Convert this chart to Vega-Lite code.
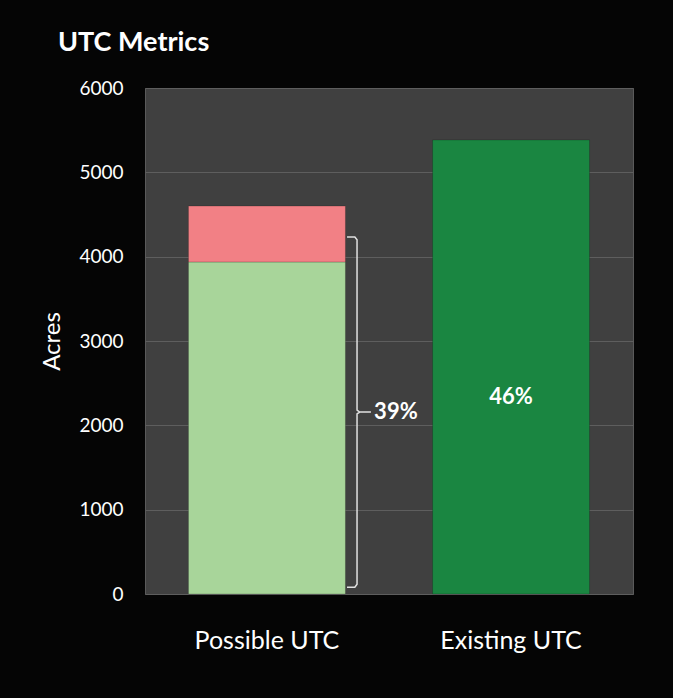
{
  "$schema": "https://vega.github.io/schema/vega-lite/v6.json",
  "autosize": "none",
  "width": 488,
  "height": 506,
  "padding": {"left": 145, "top": 88, "right": 40, "bottom": 104},
  "background": "#050505",
  "config": {
    "font": "Lato",
    "view": {"fill": "#404040", "stroke": "#5a5a5a", "strokeWidth": 1}
  },
  "title": {
    "text": "UTC Metrics",
    "anchor": "start",
    "frame": "group",
    "dx": -87,
    "offset": 22,
    "fontSize": 27,
    "fontWeight": "bold",
    "color": "white",
    "font": "Lato"
  },
  "datasets": {
    "bars": [
      {"cat": "Possible UTC", "part": "Existing canopy", "acres": 3937, "ord": 1},
      {"cat": "Possible UTC", "part": "Possible canopy", "acres": 663, "ord": 2},
      {"cat": "Existing UTC", "part": "Existing UTC", "acres": 5384, "ord": 1}
    ],
    "labels": [
      {"cat": "Existing UTC", "acres": 2335, "label": "46%"}
    ],
    "brace": [
      {"i": 1, "xq": 0.828, "acres": 4233},
      {"i": 2, "xq": 0.860, "acres": 4233},
      {"i": 3, "xq": 0.869, "acres": 4200},
      {"i": 4, "xq": 0.869, "acres": 2180},
      {"i": 5, "xq": 0.880, "acres": 2158},
      {"i": 6, "xq": 0.926, "acres": 2158},
      {"i": 7, "xq": 0.880, "acres": 2158},
      {"i": 8, "xq": 0.869, "acres": 2136},
      {"i": 9, "xq": 0.869, "acres": 116},
      {"i": 10, "xq": 0.860, "acres": 80},
      {"i": 11, "xq": 0.828, "acres": 80}
    ],
    "braceLabel": [
      {"xq": 0.939, "acres": 2158, "label": "39%"}
    ]
  },
  "layer": [
    {
      "data": {"name": "bars"},
      "mark": {"type": "bar", "stroke": "#00000030", "strokeWidth": 1},
      "encoding": {
        "x": {
          "field": "cat",
          "type": "nominal",
          "sort": ["Possible UTC", "Existing UTC"],
          "scale": {"paddingInner": 0.357, "paddingOuter": 0.178},
          "axis": {
            "title": null,
            "labelAngle": 0,
            "labelColor": "white",
            "labelFontSize": 25,
            "labelPadding": 34,
            "ticks": false,
            "domain": false
          }
        },
        "y": {
          "field": "acres",
          "type": "quantitative",
          "stack": "zero",
          "scale": {"domain": [0, 6000], "nice": false},
          "axis": {
            "title": "Acres",
            "titleColor": "white",
            "titleFontSize": 24,
            "titleFontWeight": "normal",
            "titlePadding": 14,
            "labelColor": "white",
            "labelFontSize": 19,
            "labelPadding": 22,
            "format": "d",
            "ticks": false,
            "domain": false,
            "values": [0, 1000, 2000, 3000, 4000, 5000, 6000],
            "gridColor": "#5e5e5e",
            "gridWidth": 1
          }
        },
        "color": {
          "field": "part",
          "type": "nominal",
          "scale": {
            "domain": ["Existing canopy", "Possible canopy", "Existing UTC"],
            "range": ["#a8d59a", "#f28085", "#1a8641"]
          },
          "legend": null
        },
        "order": {"field": "ord", "type": "quantitative"}
      }
    },
    {
      "data": {"name": "labels"},
      "mark": {"type": "text", "color": "white", "fontSize": 22, "fontWeight": "bold", "align": "center", "baseline": "middle"},
      "encoding": {
        "x": {"field": "cat", "type": "nominal", "sort": ["Possible UTC", "Existing UTC"], "scale": {"domain": ["Possible UTC", "Existing UTC"], "paddingInner": 0.357, "paddingOuter": 0.178}, "axis": null},
        "y": {"field": "acres", "type": "quantitative"},
        "text": {"field": "label"}
      }
    },
    {
      "data": {"name": "brace"},
      "mark": {"type": "line", "color": "#e0e0e0", "strokeWidth": 1.5, "clip": false},
      "encoding": {
        "x": {"field": "xq", "type": "quantitative", "scale": {"domain": [0, 2], "nice": false, "zero": false}, "axis": null},
        "y": {"field": "acres", "type": "quantitative"},
        "order": {"field": "i", "type": "quantitative"}
      }
    },
    {
      "data": {"name": "braceLabel"},
      "mark": {"type": "text", "color": "white", "fontSize": 22, "fontWeight": "bold", "align": "left", "baseline": "middle"},
      "encoding": {
        "x": {"field": "xq", "type": "quantitative", "scale": {"domain": [0, 2], "nice": false, "zero": false}, "axis": null},
        "y": {"field": "acres", "type": "quantitative"},
        "text": {"field": "label"}
      }
    }
  ],
  "resolve": {"scale": {"x": "independent"}}
}
